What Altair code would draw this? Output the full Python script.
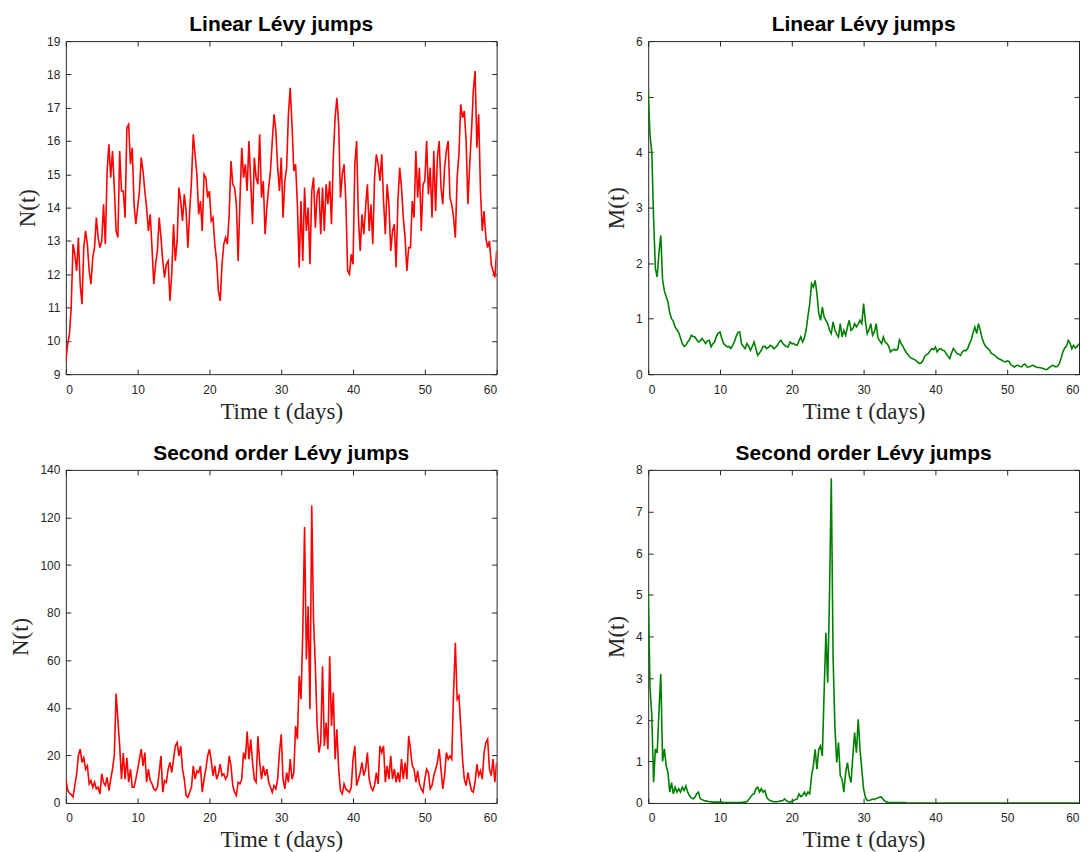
import altair as alt
import pandas as pd

# time grid (days), step 0.25
T = [round(i * 0.25, 2) for i in range(241)]
X_TICKS = [0, 10, 20, 30, 40, 50, 60]

# Linear Lévy jumps: N(t)
N_LINEAR = [
    9.4, 9.9, 10.2, 11.0, 12.9, 12.6, 12.1, 13.1, 11.7, 11.1, 12.8, 13.3, 12.9, 12.1, 11.7, 12.5, 12.8, 13.7, 13.1, 12.8,
    13.0, 14.1, 12.9, 15.1, 15.9, 14.9, 15.7, 14.6, 13.3, 13.1, 15.7, 14.5, 14.5, 13.7, 16.4, 16.5, 15.3, 15.8, 14.1, 13.5,
    14.0, 14.5, 15.5, 15.1, 14.5, 14.0, 13.3, 13.8, 12.8, 11.7, 12.3, 12.7, 13.7, 13.1, 12.4, 11.9, 12.3, 12.4, 11.2, 12.0,
    13.5, 12.4, 13.0, 14.6, 14.2, 13.6, 14.4, 13.9, 12.8, 13.9, 14.8, 16.2, 15.6, 15.0, 13.8, 14.2, 13.3, 15.0, 14.9, 14.3,
    14.5, 13.6, 13.7, 12.9, 12.4, 11.5, 11.2, 12.3, 12.9, 13.1, 12.9, 13.8, 15.4, 14.7, 14.6, 14.1, 12.4, 14.2, 15.8, 14.9,
    15.3, 14.5, 16.0, 14.8, 13.5, 15.5, 14.9, 14.7, 16.2, 14.3, 14.8, 13.2, 14.0, 14.6, 15.1, 16.0, 16.8, 16.3, 15.2, 14.5,
    15.5, 13.7, 14.8, 15.2, 16.8, 17.6, 16.5, 15.1, 15.3, 14.1, 12.2, 14.2, 12.4, 14.6, 13.3, 14.0, 12.3, 14.5, 14.9, 13.4,
    14.4, 14.6, 13.2, 14.6, 13.3, 14.7, 14.1, 14.8, 13.5, 15.5, 16.7, 17.3, 16.5, 14.3, 15.0, 15.3, 14.2, 12.1, 12.0, 12.6,
    12.3, 15.3, 16.0, 13.7, 12.7, 13.8, 13.2, 14.0, 14.7, 13.3, 14.1, 12.9, 14.9, 15.6, 15.3, 14.8, 15.6, 14.2, 13.2, 14.7,
    14.1, 12.7, 13.3, 13.5, 12.2, 14.2, 15.2, 14.6, 13.7, 13.1, 12.1, 12.8, 12.8, 14.2, 13.7, 15.7, 14.3, 15.2, 13.3, 14.7,
    14.8, 16.0, 14.4, 15.2, 13.7, 15.7, 13.9, 15.5, 16.0, 14.6, 14.1, 15.2, 15.7, 16.0, 14.3, 14.1, 13.7, 13.1, 14.9, 15.6,
    17.1, 16.7, 16.9, 16.0, 14.1, 15.3, 16.3, 17.5, 18.1, 15.8, 16.8, 14.5, 13.3, 13.9, 13.1, 12.8, 13.0, 12.3, 12.1, 11.9,
    12.7,
]

# Linear Lévy jumps: M(t)
M_LINEAR = [
    5.1, 4.3, 4.0, 2.8, 1.9, 1.75, 2.2, 2.5, 1.7, 1.5, 1.4, 1.3, 1.1, 1.0, 0.95, 0.85, 0.8, 0.75, 0.65, 0.55,
    0.5, 0.52, 0.58, 0.62, 0.7, 0.68, 0.67, 0.62, 0.58, 0.6, 0.64, 0.6, 0.55, 0.6, 0.61, 0.49, 0.55, 0.58, 0.68, 0.74,
    0.76, 0.64, 0.55, 0.52, 0.49, 0.5, 0.46, 0.52, 0.58, 0.68, 0.75, 0.76, 0.55, 0.5, 0.46, 0.55, 0.5, 0.43, 0.5, 0.58,
    0.46, 0.34, 0.38, 0.43, 0.5, 0.5, 0.46, 0.48, 0.52, 0.5, 0.46, 0.48, 0.52, 0.58, 0.61, 0.55, 0.52, 0.5, 0.49, 0.58,
    0.55, 0.55, 0.53, 0.52, 0.6, 0.67, 0.58, 0.65, 0.8, 1.05, 1.27, 1.63, 1.57, 1.69, 1.45, 1.1, 0.97, 1.21, 1.03, 0.97,
    0.91, 0.79, 0.73, 0.94, 0.8, 0.72, 0.67, 0.91, 0.67, 0.79, 0.7, 0.85, 0.97, 0.79, 0.82, 0.91, 0.85, 0.9, 0.97, 0.91,
    1.27, 0.95, 0.73, 0.8, 0.91, 0.7, 0.76, 0.91, 0.65, 0.6, 0.55, 0.67, 0.58, 0.55, 0.5, 0.4, 0.43, 0.45, 0.43, 0.45,
    0.62, 0.55, 0.49, 0.43, 0.38, 0.34, 0.3, 0.28, 0.27, 0.25, 0.22, 0.19, 0.2, 0.24, 0.32, 0.35, 0.37, 0.42, 0.46, 0.44,
    0.49, 0.4, 0.45, 0.46, 0.43, 0.42, 0.37, 0.32, 0.28, 0.38, 0.46, 0.42, 0.37, 0.36, 0.34, 0.4, 0.43, 0.42, 0.46, 0.55,
    0.62, 0.75, 0.85, 0.73, 0.91, 0.79, 0.65, 0.56, 0.5, 0.47, 0.44, 0.38, 0.36, 0.34, 0.31, 0.28, 0.27, 0.25, 0.23, 0.22,
    0.24, 0.23, 0.17, 0.15, 0.13, 0.15, 0.16, 0.14, 0.13, 0.17, 0.18, 0.13, 0.13, 0.14, 0.16, 0.15, 0.13, 0.12, 0.12, 0.11,
    0.1, 0.09, 0.08, 0.11, 0.13, 0.16, 0.15, 0.13, 0.14, 0.19, 0.28, 0.4, 0.47, 0.5, 0.61, 0.56, 0.46, 0.52, 0.47, 0.5,
    0.55,
]

# Second order Lévy jumps: N(t)
N_SECOND = [
    10, 5.5, 4.2, 3.5, 2.5, 7.3, 12, 20, 22.6, 17, 19, 14.2, 15.6, 8, 9.4, 6.6, 8.7, 5.9, 6.6, 3.8,
    12.2, 8.7, 7.3, 10.8, 5.2, 10, 14.2, 20, 46, 35, 24, 10, 21, 10, 19, 8.7, 14.2, 6.6, 6.6, 10,
    14, 18.4, 22.6, 15.6, 21.2, 8.7, 14.2, 9.4, 8, 5.9, 5.2, 6.6, 12.8, 19.8, 4.5, 9.4, 8.7, 14.2, 17, 12.8,
    18.4, 24, 25.4, 19.8, 24, 14.2, 10, 3.1, 2.4, 4.5, 6.6, 15.6, 10, 13.5, 12.8, 15.6, 4.5, 10, 14.2, 19.8,
    22.6, 17.7, 11.5, 15.6, 10, 12.2, 16.3, 11.5, 12.2, 10, 11.5, 19.8, 15.6, 7.3, 4.5, 3.1, 8.7, 8, 10, 21.2,
    18.4, 30, 18.4, 26.8, 17, 10, 8.7, 28, 17, 10, 15.6, 11.5, 14.2, 8.7, 6.6, 4.5, 7.3, 5.9, 10, 21.2,
    28.9, 10, 5.9, 12.8, 8.7, 18.4, 10, 12.8, 32.4, 26.8, 53.4, 43.6, 71.5, 116, 60.3, 82.7, 39.4, 125, 77, 57.5,
    32.4, 21.2, 25.4, 57.5, 24, 33.8, 22.6, 61.7, 32.4, 46.4, 18.4, 31, 14.2, 5.2, 3.8, 8, 5.9, 5.2, 4.5, 6.6,
    18.4, 24, 7.3, 10, 12.8, 17, 11.5, 14.2, 21.2, 10, 6.6, 5.2, 7.3, 12.8, 8, 24, 21.2, 24, 8.7, 15.6,
    10, 19.8, 10, 14.2, 8.7, 12.8, 8.7, 18.4, 10, 17, 10, 28.2, 22.6, 15.6, 14.2, 8.7, 13.5, 8, 5.9, 4.5,
    10, 14.2, 12.8, 5.9, 7.3, 11.5, 14.2, 17, 22.6, 14.2, 5.9, 11.5, 21.2, 18.4, 19.8, 18.4, 46.4, 67.3, 43.6, 45,
    32.4, 18.4, 10, 7.3, 12.8, 8.7, 5.2, 4.5, 8.7, 16.3, 11.5, 13.5, 10, 21.2, 25.4, 26.8, 14.2, 11.5, 18.4, 8.7,
    17,
]

# Second order Lévy jumps: M(t)
M_SECOND = [
    5.1, 2.8, 2.1, 0.5, 1.3, 1.2, 2.2, 3.1, 1.0, 1.3, 0.9, 0.73, 0.26, 0.49, 0.22, 0.38, 0.26, 0.34, 0.26, 0.38,
    0.3, 0.41, 0.26, 0.18, 0.12, 0.1, 0.14, 0.22, 0.26, 0.1, 0.08, 0.06, 0.05, 0.04, 0.03, 0.03, 0.02, 0.02, 0.02, 0.02,
    0.02, 0.02, 0.01, 0.01, 0.01, 0.01, 0.01, 0.01, 0.01, 0.01, 0.01, 0.01, 0.01, 0.02, 0.02, 0.03, 0.08, 0.14, 0.2, 0.22,
    0.34, 0.38, 0.26, 0.34, 0.26, 0.3, 0.14, 0.08, 0.06, 0.04, 0.03, 0.03, 0.03, 0.04, 0.05, 0.06, 0.1, 0.05, 0.03, 0.02,
    0.04, 0.06, 0.08, 0.1, 0.22, 0.15, 0.18, 0.26, 0.18, 0.26, 0.22, 0.65, 0.89, 1.29, 0.81, 1.29, 1.37, 1.13, 2.65, 4.09,
    2.89, 5.0, 7.8, 3.5, 1.85, 0.97, 1.45, 0.65, 0.57, 0.26, 0.73, 0.97, 0.65, 0.49, 1.13, 1.69, 1.21, 2.01, 1.29, 0.8,
    0.34, 0.14, 0.06, 0.06, 0.07, 0.1, 0.08, 0.11, 0.12, 0.14, 0.14, 0.08, 0.04, 0.02, 0.01, 0.01, 0.01, 0.01, 0.01, 0.01,
    0.01, 0.01, 0.01, 0.01, 0.0, 0.0, 0.0, 0.0, 0.0, 0.0, 0.0, 0.0, 0.0, 0.0, 0.0, 0.0, 0.0, 0.0, 0.0, 0.0,
    0.0, 0.0, 0.0, 0.0, 0.0, 0.0, 0.0, 0.0, 0.0, 0.0, 0.0, 0.0, 0.0, 0.0, 0.0, 0.0, 0.0, 0.0, 0.0, 0.0,
    0.0, 0.0, 0.0, 0.0, 0.0, 0.0, 0.0, 0.0, 0.0, 0.0, 0.0, 0.0, 0.0, 0.0, 0.0, 0.0, 0.0, 0.0, 0.0, 0.0,
    0.0, 0.0, 0.0, 0.0, 0.0, 0.0, 0.0, 0.0, 0.0, 0.0, 0.0, 0.0, 0.0, 0.0, 0.0, 0.0, 0.0, 0.0, 0.0, 0.0,
    0.0, 0.0, 0.0, 0.0, 0.0, 0.0, 0.0, 0.0, 0.0, 0.0, 0.0, 0.0, 0.0, 0.0, 0.0, 0.0, 0.0, 0.0, 0.0, 0.0,
    0.0,
]

TITLE_LINEAR = "Linear Lévy jumps"
TITLE_SECOND = "Second order Lévy jumps"
X_TITLE = "Time t (days)"

RED = "#FF0000"
GREEN = "#008000"
AXIS_COLOR = "#262626"
TICK = 5
W, H = 432, 334


def panel(values, color, ydomain, yticks, ytitle, title):
    df = pd.DataFrame({"t": T, "v": values})
    xs = alt.Scale(domain=[0, 60], nice=False, zero=False)
    ys = alt.Scale(domain=ydomain, nice=False, zero=False)
    main = alt.Chart(df).mark_line(color=color, strokeWidth=1.6, clip=True).encode(
        x=alt.X("t:Q", scale=xs,
                axis=alt.Axis(orient="bottom", values=X_TICKS, title=X_TITLE,
                              offset=-TICK, tickSize=TICK, labelPadding=10, titlePadding=5)),
        y=alt.Y("v:Q", scale=ys,
                axis=alt.Axis(orient="left", values=yticks, title=ytitle,
                              offset=-TICK, tickSize=TICK, labelPadding=6, titlePadding=7)),
    )
    ghost = alt.Chart(df).mark_line(opacity=0).encode(
        x=alt.X("t:Q", scale=xs,
                axis=alt.Axis(orient="top", values=X_TICKS, title=None, labels=False,
                              offset=-TICK, tickSize=TICK)),
        y=alt.Y("v:Q", scale=ys,
                axis=alt.Axis(orient="right", values=yticks, title=None, labels=False,
                              offset=-TICK, tickSize=TICK)),
    )
    return alt.layer(main, ghost).resolve_axis(x="independent", y="independent").properties(
        width=W, height=H,
        title=alt.TitleParams(text=title, fontSize=21, fontWeight="bold", font="Liberation Sans",
                              color="#000000", offset=0, anchor="middle"),
    )


tl = panel(N_LINEAR, RED, [9, 19], list(range(9, 20)), "N(t)", TITLE_LINEAR)
tr = panel(M_LINEAR, GREEN, [0, 6], list(range(0, 7)), "M(t)", TITLE_LINEAR)
bl = panel(N_SECOND, RED, [0, 140], list(range(0, 141, 20)), "N(t)", TITLE_SECOND)
br = panel(M_SECOND, GREEN, [0, 8], list(range(0, 9)), "M(t)", TITLE_SECOND)

chart = alt.concat(
    tl, tr, bl, br, columns=2, spacing={"row": 96, "column": 152}, bounds="flush"
).properties(
    padding={"left": 1, "top": 4, "right": 0, "bottom": 0},
    background="white",
).configure_view(
    stroke=AXIS_COLOR, strokeWidth=1
).configure_axis(
    labelFont="Liberation Sans", labelFontSize=12, labelColor=AXIS_COLOR,
    titleFont="Liberation Serif", titleFontSize=23, titleFontWeight="normal", titleColor=AXIS_COLOR,
    tickColor=AXIS_COLOR, tickWidth=1, domain=False, grid=False,
)

chart.save("out.html", embed_options={"renderer": "svg", "actions": False})
